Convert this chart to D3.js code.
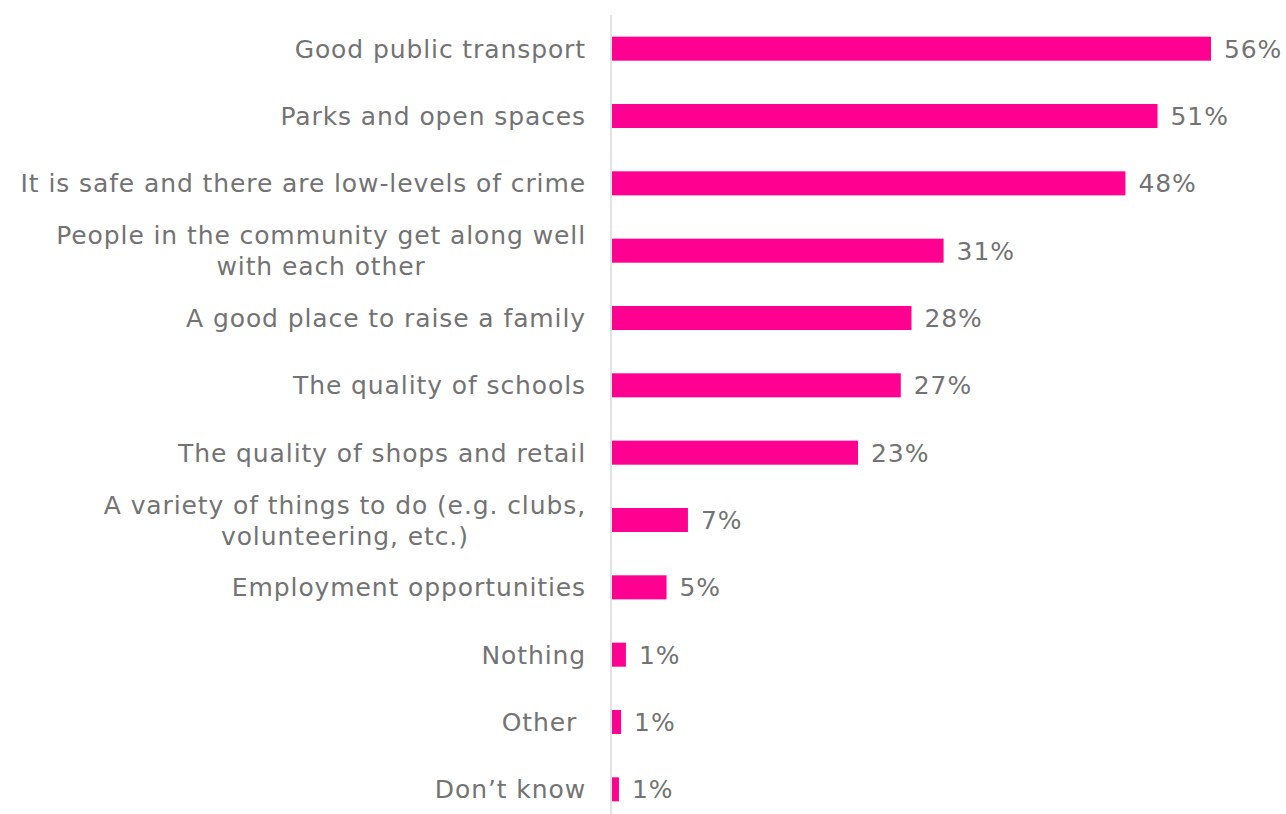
<!DOCTYPE html>
<html>
<head>
<meta charset="utf-8">
<script src="https://cdn.jsdelivr.net/npm/d3@7"></script>
<style>
  body { margin: 0; background: #fff; }
  text { font-family: "DejaVu Sans", Verdana, sans-serif; fill: #737373; letter-spacing: 0.9px; }
</style>
</head>
<body>
<div id="chart"></div>
<script>
// ========================= DATA =========================
const categories = [
  "Good public transport",
  "Parks and open spaces",
  "It is safe and there are low-levels of crime",
  "People in the community get along well\nwith each other",
  "A good place to raise a family",
  "The quality of schools",
  "The quality of shops and retail",
  "A variety of things to do (e.g. clubs,\nvolunteering, etc.)",
  "Employment opportunities",
  "Nothing",
  "Other ",
  "Don\u2019t know"
]
const values = [56, 51, 48, 31, 28, 27, 23, 7.1, 5.1, 1.3, 0.85, 0.65]
const valueLabels = ["56%", "51%", "48%", "31%", "28%", "27%", "23%", "7%", "5%", "1%", "1%", "1%"]

// ========================= SETTINGS =========================
const width = 1286
const height = 814
const axisX = 611
const fontSize = 25

const svg = d3.select('#chart')
  .append('svg')
  .attr('width', width)
  .attr('height', height)

const x = d3.scaleLinear().domain([0, 56]).range([axisX + 1, 1211])
const y = d3.scaleBand()
  .domain(categories)
  .range([15, 823])
  .paddingInner(0.643)
  .paddingOuter(0.3215)

// ========================= BARS =========================
svg.append('g')
  .selectAll('rect')
  .data(categories)
  .enter().append('rect')
  .attr('x', x(0))
  .attr('y', d => y(d))
  .attr('width', (d, i) => x(values[i]) - x(0))
  .attr('height', y.bandwidth())
  .attr('fill', '#ff0090')

// axis line
svg.append('line')
  .attr('x1', axisX).attr('x2', axisX)
  .attr('y1', 15).attr('y2', height)
  .attr('stroke', '#d9d9d9')
  .attr('stroke-width', 1.5)

// ========================= VALUE LABELS =========================
svg.append('g')
  .selectAll('text')
  .data(categories)
  .enter().append('text')
  .attr('x', (d, i) => x(values[i]) + 13)
  .attr('y', d => y(d) + y.bandwidth() / 2)
  .attr('dy', '0.36em')
  .style('font-size', fontSize + 'px')
  .text((d, i) => valueLabels[i])

// ========================= CATEGORY LABELS =========================
const lineH = 31
const labelRight = 586
const labels = svg.append('g')
  .selectAll('text')
  .data(categories)
  .enter().append('text')
  .style('font-size', fontSize + 'px')
  .style('white-space', 'pre')
  .attr('text-anchor', 'middle')

labels.each(function (d) {
  const t = d3.select(this)
  const lines = d.split('\n')
  const cy = y(d) + y.bandwidth() / 2
  const spans = lines.map((ln, j) => t.append('tspan')
    .attr('y', cy + (j - (lines.length - 1) / 2) * lineH)
    .attr('dy', '0.36em')
    .text(ln))
  // right-aligned block, lines centred within it
  const maxW = d3.max(spans, s => s.node().getComputedTextLength())
  spans.forEach(s => s.attr('x', labelRight - maxW / 2))
})
</script>
</body>
</html>
